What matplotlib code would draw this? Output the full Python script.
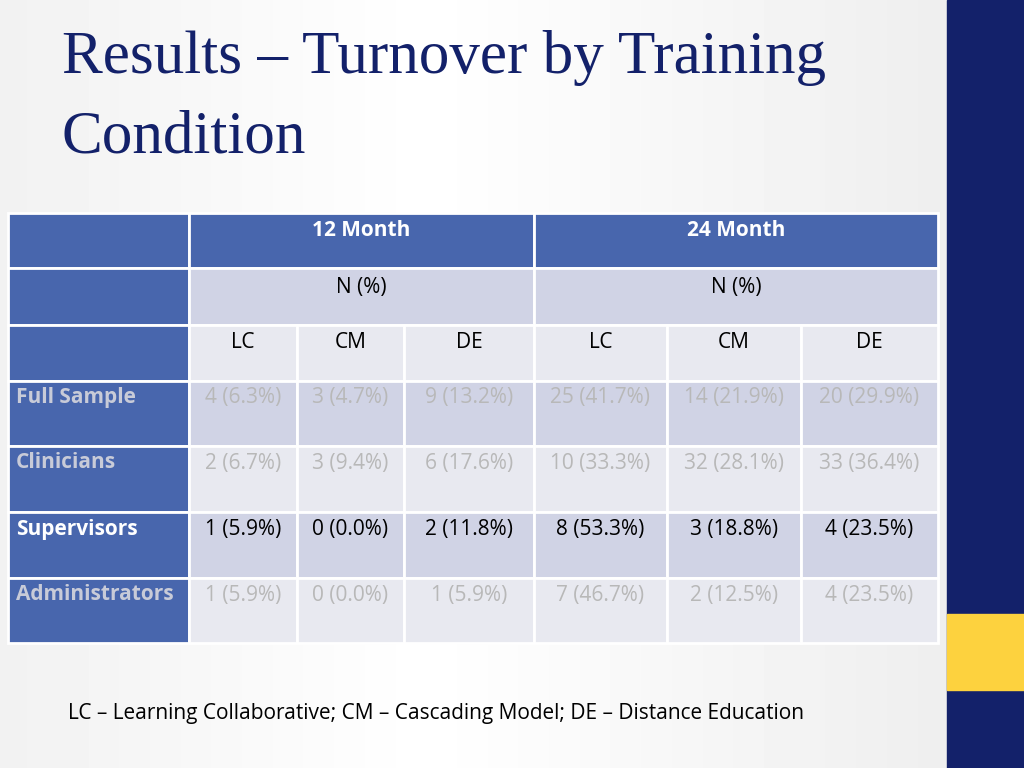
import matplotlib
matplotlib.use("Agg")
import matplotlib.pyplot as plt
from matplotlib.patches import Rectangle

title = "Results – Turnover by Training\nCondition"
periods = ["12 Month", "24 Month"]
conditions = ["LC", "CM", "DE", "LC", "CM", "DE"]
groups = ["Full Sample", "Clinicians", "Supervisors", "Administrators"]
values = [
    ["4 (6.3%)", "3 (4.7%)", "9 (13.2%)", "25 (41.7%)", "14 (21.9%)", "20 (29.9%)"],
    ["2 (6.7%)", "3 (9.4%)", "6 (17.6%)", "10 (33.3%)", "32 (28.1%)", "33 (36.4%)"],
    ["1 (5.9%)", "0 (0.0%)", "2 (11.8%)", "8 (53.3%)", "3 (18.8%)", "4 (23.5%)"],
    ["1 (5.9%)", "0 (0.0%)", "1 (5.9%)", "7 (46.7%)", "2 (12.5%)", "4 (23.5%)"],
]
footnote = "LC – Learning Collaborative; CM – Cascading Model; DE – Distance Education"

BLUE = "#4866ad"; LAV = "#d0d3e5"; LIGHT = "#e8e9f0"; NAVY = "#13216a"
fig = plt.figure(figsize=(10.24, 7.68), dpi=100)
ax = fig.add_axes([0, 0, 1, 1])
ax.set_xlim(0, 1024); ax.set_ylim(768, 0); ax.axis("off")

# background
import numpy as np
grad = np.linspace(0, 1, 256)
bg = np.outer(np.ones(256), 1 - 0.06 * np.abs(grad - 0.45) * 2)
ax.imshow(bg, extent=(0, 947, 768, 0), cmap="gray", vmin=0, vmax=1, aspect="auto", zorder=0)
ax.add_patch(Rectangle((947, 0), 77, 768, color=NAVY, zorder=1))
ax.add_patch(Rectangle((947, 614), 77, 76, color="#fdd23e", zorder=2))

ax.text(62, 58, "Results – Turnover by Training", fontsize=44, family="Liberation Serif",
        color=NAVY, va="center", ha="left")
ax.text(62, 138, "Condition", fontsize=44, family="Liberation Serif",
        color=NAVY, va="center", ha="left")

xs = [8, 189, 297, 404, 534, 667, 801, 938]
ys = [213, 268, 325, 381, 446, 512, 578, 643]
F = "Open Sans"

def cell(x0, x1, y0, y1, c):
    ax.add_patch(Rectangle((x0, y0), x1 - x0, y1 - y0, facecolor=c, edgecolor="white", lw=2, zorder=3))

# header rows
cell(xs[0], xs[1], ys[0], ys[1], BLUE)
cell(xs[1], xs[4], ys[0], ys[1], BLUE)
cell(xs[4], xs[7], ys[0], ys[1], BLUE)
ax.text((xs[1] + xs[4]) / 2, 230, periods[0], ha="center", va="center", color="white", fontsize=15, fontweight="bold", family=F, zorder=5)
ax.text((xs[4] + xs[7]) / 2, 230, periods[1], ha="center", va="center", color="white", fontsize=15, fontweight="bold", family=F, zorder=5)
cell(xs[0], xs[1], ys[1], ys[2], BLUE)
cell(xs[1], xs[4], ys[1], ys[2], LAV)
cell(xs[4], xs[7], ys[1], ys[2], LAV)
for a, b in [(1, 4), (4, 7)]:
    ax.text((xs[a] + xs[b]) / 2, 287, "N (%)", ha="center", va="center", color="black", fontsize=15, family=F, zorder=5)
cell(xs[0], xs[1], ys[2], ys[3], BLUE)
for j, c in enumerate(conditions):
    cell(xs[j + 1], xs[j + 2], ys[2], ys[3], LIGHT)
    ax.text((xs[j + 1] + xs[j + 2]) / 2, 343, c, ha="center", va="center", color="black", fontsize=15, family=F, zorder=5)

for i, g in enumerate(groups):
    y0, y1 = ys[3 + i], ys[4 + i]
    fill = LAV if i % 2 == 0 else LIGHT
    strong = g == "Supervisors"
    cell(xs[0], xs[1], y0, y1, BLUE)
    ax.text(16, y0 + 17, g, ha="left", va="center", fontsize=15, fontweight="bold", family=F,
            color="white" if strong else "#c8cbd8", zorder=5)
    for j, v in enumerate(values[i]):
        cell(xs[j + 1], xs[j + 2], y0, y1, fill)
        ax.text((xs[j + 1] + xs[j + 2]) / 2, y0 + 17, v, ha="center", va="center", fontsize=15, family=F,
                color="black" if strong else "#b8b8b8", zorder=5)

ax.text(68, 713, footnote, ha="left", va="center", fontsize=15, family=F, color="black")
fig.savefig("out.png", dpi=100)
